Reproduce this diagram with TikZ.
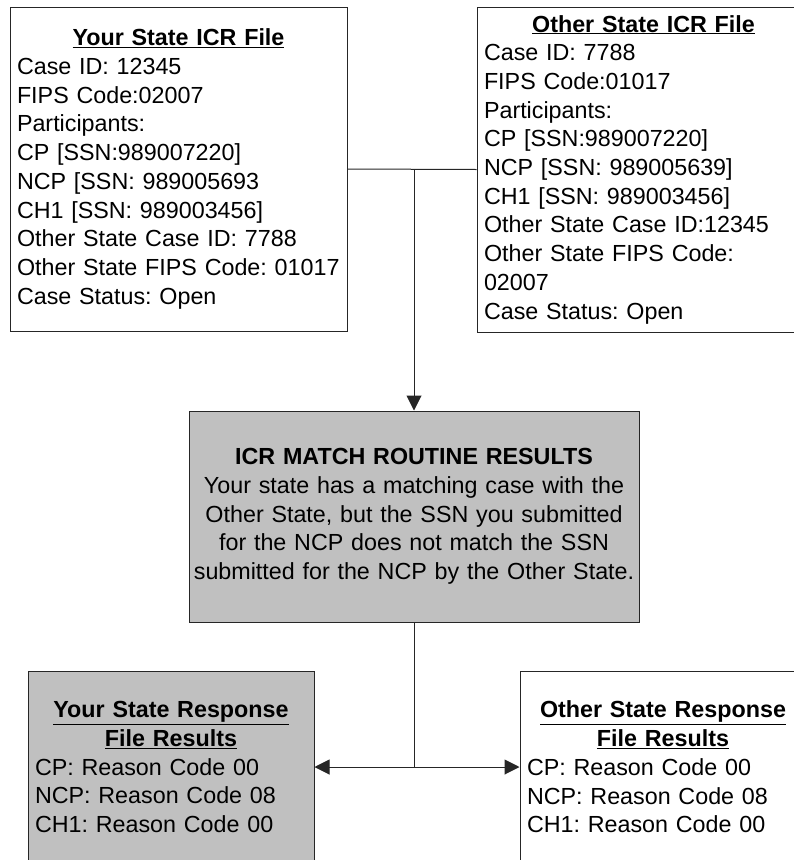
\documentclass[tikz,border=0pt]{standalone}
\usepackage{fontspec}
\setmainfont{Liberation Sans}
\usetikzlibrary{arrows.meta}

\definecolor{boxgray}{RGB}{192,192,192}
\newcommand{\boxtitle}[1]{\makebox[\hsize][c]{\bfseries\underline{#1}}}

\tikzset{
  filebox/.style={draw=black!85, line width=1pt, inner sep=7pt, align=left,
    font=\fontsize{23.3}{28.7}\selectfont\frenchspacing},
  resultbox/.style={filebox, fill=boxgray},
  link/.style={line width=1pt, black!85},
  tip/.style={link, -{Triangle[length=15pt,width=15pt]}}
}

\begin{document}
\begin{tikzpicture}[x=1pt, y=-1pt]
    \path[use as bounding box, clip] (0,0) rectangle (794,860);

    \node[filebox, text width=323pt, minimum height=324pt] (yourfile) at (178.5,169) {%
      \boxtitle{Your State ICR File}\\
      Case ID: 12345\\
      FIPS Code:02007\\
      Participants:\\
      CP [SSN:989007220]\\
      NCP [SSN: 989005693\\
      CH1 [SSN: 989003456]\\
      Other State Case ID: 7788\\
      Other State FIPS Code: 01017\\
      Case Status: Open};

    \node[filebox, text width=319pt, minimum height=325pt] (otherfile) at (643.5,169.5) {%
      \boxtitle{Other State ICR File}\\
      Case ID: 7788\\
      FIPS Code:01017\\
      Participants:\\
      CP [SSN:989007220]\\
      NCP [SSN: 989005639]\\
      CH1 [SSN: 989003456]\\
      Other State Case ID:12345\\
      Other State FIPS Code:\\
      02007\\
      Case Status: Open};

    \node[resultbox, align=center, inner sep=4pt, text width=442pt, minimum height=211pt] (match) at (414,516.5) {%
      \textbf{ICR MATCH ROUTINE RESULTS}\\
      Your state has a matching case with the\\
      Other State, but the SSN you submitted\\
      for the NCP does not match the SSN\\
      submitted for the NCP by the Other State.};

    \node[resultbox, text width=272pt, minimum height=192pt] (yourresp) at (171,767) {%
      \boxtitle{Your State Response}\\
      \boxtitle{File Results}\\
      CP: Reason Code 00\\
      NCP: Reason Code 08\\
      CH1: Reason Code 00};

    \node[filebox, text width=272pt, minimum height=192pt] (otherresp) at (663,767) {%
      \boxtitle{Other State Response}\\
      \boxtitle{File Results}\\
      CP: Reason Code 00\\
      NCP: Reason Code 08\\
      CH1: Reason Code 00};

    % ICR files into the match routine
    \coordinate (join) at (match.north |- yourfile.east);
    \draw[link] (yourfile.east) -- (otherfile.west);
    \draw[tip] (join) -- (match.north);

    % results out to the response files
    \coordinate (split) at (match.south |- yourresp.east);
    \draw[link] (match.south) -- (split);
    \draw[tip] (split) -- (yourresp.east);
    \draw[tip] (split) -- (otherresp.west);
\end{tikzpicture}
\end{document}
